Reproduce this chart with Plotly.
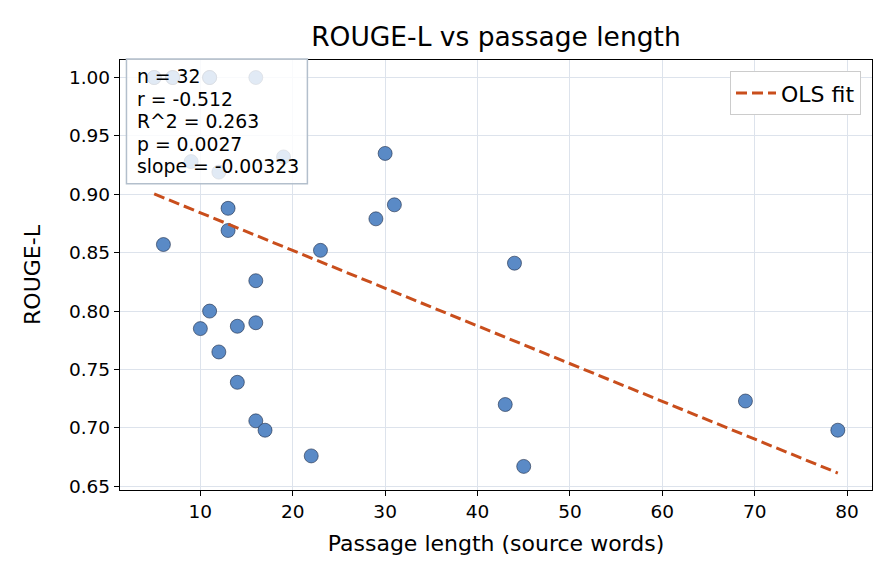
import numpy as np
import plotly.graph_objects as go

# Data (passage length in source words, ROUGE-L)
passage_len = [6, 13, 13, 23, 16, 11, 10, 14, 16, 12, 14, 16, 17, 22,
               30, 31, 29, 44, 43, 45, 69, 79,
               5, 7, 11, 16, 9, 12, 19,
               5, 7, 11]
rouge_l = [0.857, 0.888, 0.869, 0.852, 0.826, 0.800, 0.785, 0.787, 0.790, 0.765,
           0.739, 0.706, 0.698, 0.676,
           0.935, 0.891, 0.879, 0.841, 0.720, 0.667, 0.723, 0.698,
           1.000, 1.000, 1.000, 1.000, 0.928, 0.919, 0.932,
           1.000, 1.000, 1.000]

stats_lines = ["n = 32", "r = -0.512", "R^2 = 0.263", "p = 0.0027", "slope = -0.00323"]
fit_slope = -0.00323
fit_intercept = 0.9165

x_ticks = [10, 20, 30, 40, 50, 60, 70, 80]
y_ticks = [0.65, 0.70, 0.75, 0.80, 0.85, 0.90, 0.95, 1.00]

FONT = "DejaVu Sans"

xs = np.array(passage_len, dtype=float)
fit_x = np.linspace(xs.min(), xs.max(), 50)
fit_y = fit_intercept + fit_slope * fit_x

fig = go.Figure()
fig.add_trace(go.Scatter(
    x=passage_len, y=rouge_l, mode="markers",
    marker=dict(size=14, color="#5a8ac6", line=dict(color="#1c2a44", width=0.6)),
    showlegend=False, hoverinfo="x+y"))
fig.add_trace(go.Scatter(
    x=fit_x, y=fit_y, mode="lines", name="OLS fit",
    line=dict(color="#c94e1c", width=3, dash="11px,5px")))

axis_common = dict(
    showgrid=True, gridcolor="#dde3ec", gridwidth=1.2,
    showline=True, linecolor="black", linewidth=1.3, mirror=True,
    ticks="outside", ticklen=5, tickwidth=1.2, tickcolor="black",
    zeroline=False, tickfont=dict(family=FONT, size=18.5, color="black"))

fig.update_layout(
    width=896, height=584,
    margin=dict(l=119.5, r=24, t=60, b=93.5),
    paper_bgcolor="white", plot_bgcolor="white",
    font=dict(family=FONT, size=18, color="black"),
    title=dict(text="ROUGE-L vs passage length", x=0.5535, xanchor="center",
               y=1 - 37 / 584, yanchor="middle", yref="container",
               font=dict(family=FONT, size=26.5, color="black")),
    legend=dict(x=0.9854, xanchor="right", y=0.974, yanchor="top",
                bgcolor="white", bordercolor="#cccccc", borderwidth=1,
                itemwidth=40,
                font=dict(family=FONT, size=22, color="black")),
    xaxis=dict(range=[1.3, 82.7], tickvals=x_ticks, ticktext=[str(v) for v in x_ticks],
               title=dict(text="Passage length (source words)", standoff=14,
                          font=dict(family=FONT, size=22, color="black")),
               **axis_common),
    yaxis=dict(range=[0.6468, 1.015], tickvals=y_ticks,
               ticktext=[f"{v:.2f}" for v in y_ticks],
               title=dict(text="ROUGE-L", standoff=22,
                          font=dict(family=FONT, size=22, color="black")),
               **axis_common),
)

# Stats box (semi-transparent, above markers)
fig.add_shape(type="rect", xref="paper", yref="paper",
              x0=0.0086, x1=0.2492, y0=0.712, y1=1.0023,
              fillcolor="rgba(255,255,255,0.82)", line=dict(color="#b3bfcc", width=1.5),
              layer="above")
line_y0 = 0.9605
line_step = 22.5 / 430.5
for i, txt in enumerate(stats_lines):
    fig.add_annotation(
        xref="paper", yref="paper", x=0.0206, y=line_y0 - i * line_step,
        xanchor="left", yanchor="middle", text=txt, showarrow=False,
        font=dict(family=FONT, size=18.8, color="black"))

fig.write_html("out.html")
